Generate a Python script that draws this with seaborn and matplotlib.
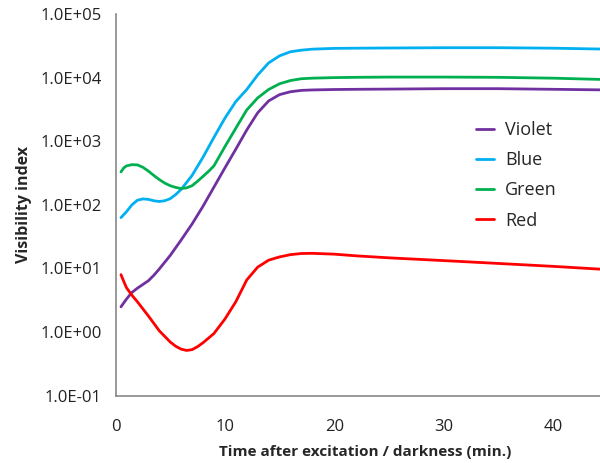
import matplotlib
matplotlib.use('Agg')
import matplotlib.pyplot as plt
import numpy as np
import pandas as pd
import seaborn as sns

# time after excitation (min.) and visibility index
t_violet = [0.5, 1, 1.5, 2, 2.5, 3, 3.5, 4, 5, 6, 7, 8, 9, 10, 11, 12, 13, 14, 15, 16, 17, 18, 20, 22, 25,
            30, 35, 40, 45]
violet = [2.5, 3.3, 4.2, 4.9, 5.6, 6.4, 7.8, 9.8, 16, 28, 50, 95, 190, 380, 750, 1500, 2800, 4300, 5400,
          6000, 6300, 6400, 6500, 6550, 6600, 6700, 6700, 6550, 6400]

t_blue = [0.5, 1, 1.5, 2, 2.5, 3, 3.5, 4, 4.5, 5, 5.5, 6, 7, 8, 9, 10, 11, 12, 13, 14, 15, 16, 17, 18, 20,
          22, 25, 30, 35, 40, 45]
blue = [63, 78, 100, 118, 124, 122, 116, 113, 116, 125, 145, 175, 290, 560, 1150, 2300, 4200, 6500, 11000,
        17000, 22000, 25500, 27000, 28000, 28800, 29000, 29200, 29500, 29500, 29000, 28000]

t_green = [0.5, 0.75, 1, 1.5, 2, 2.5, 3, 3.5, 4, 4.5, 5, 5.5, 6, 6.5, 7, 7.5, 8, 8.5, 9, 10, 11, 12, 13, 14,
           15, 16, 17, 18, 20, 22, 25, 30, 35, 40, 45]
green = [330, 380, 410, 428, 425, 390, 340, 290, 250, 220, 200, 188, 180, 185, 200, 235, 280, 335, 410, 820,
         1600, 3100, 4800, 6500, 8000, 9000, 9600, 9800, 10000, 10100, 10200, 10200, 10100, 9800, 9300]

t_red = [0.5, 0.8, 1, 1.5, 2, 3, 4, 5, 5.5, 6, 6.5, 7, 7.5, 8, 9, 10, 11, 12, 13, 14, 15, 16, 17, 18, 20,
         22, 25, 30, 35, 40, 45]
red = [8, 6, 5, 3.8, 3, 1.8, 1.05, 0.7, 0.6, 0.54, 0.515, 0.53, 0.59, 0.68, 0.95, 1.6, 3.0, 6.6, 10.5,
       13.5, 15.2, 16.5, 17.2, 17.3, 16.8, 15.8, 14.7, 13.3, 12, 10.8, 9.6]

series = ['Violet', 'Blue', 'Green', 'Red']
colors = ['#7030A0', '#00B0F0', '#00B050', '#FF0000']

y_ticks = [1e-1, 1e0, 1e1, 1e2, 1e3, 1e4, 1e5]
y_labels = ['1.0E-01', '1.0E+00', '1.0E+01', '1.0E+02', '1.0E+03', '1.0E+04', '1.0E+05']
x_ticks = [0, 10, 20, 30, 40]

df = pd.concat([
    pd.DataFrame({'time': t_violet, 'value': violet, 'color': 'Violet'}),
    pd.DataFrame({'time': t_blue, 'value': blue, 'color': 'Blue'}),
    pd.DataFrame({'time': t_green, 'value': green, 'color': 'Green'}),
    pd.DataFrame({'time': t_red, 'value': red, 'color': 'Red'}),
])

sns.set_style('white')
plt.rcParams['font.family'] = ['Open Sans', 'DejaVu Sans']

fig = plt.figure(figsize=(6, 4.63), dpi=100)
ax = fig.add_axes([0.1925, 0.1453, 0.8075, 0.8245])

sns.lineplot(data=df, x='time', y='value', hue='color', hue_order=series,
             palette=dict(zip(series, colors)), linewidth=2, ax=ax, sort=False, estimator=None)

ax.set_yscale('log')
ax.set_ylim(1e-1, 1e5)
ax.set_xlim(0, 44.3)
ax.set_yticks(y_ticks)
ax.set_yticklabels(y_labels)
ax.yaxis.set_minor_locator(matplotlib.ticker.NullLocator())
ax.set_xticks(x_ticks)

for s in ['top', 'right']:
    ax.spines[s].set_visible(False)
for s in ['left', 'bottom']:
    ax.spines[s].set_color('#888888')
    ax.spines[s].set_linewidth(1.2)
ax.tick_params(axis='both', which='major', direction='out', length=4, width=1.2,
               color='#888888', labelsize=12, labelcolor='#222222', pad=6)
ax.tick_params(axis='x', pad=13)

ax.set_xlabel('Time after excitation / darkness (min.)', fontsize=11, fontweight='bold')
ax.set_ylabel('Visibility index', fontsize=11.5, fontweight='bold')
ax.xaxis.set_label_coords(0.515, -0.128)
ax.yaxis.set_label_coords(-0.172, 0.5)

leg = ax.legend(loc='upper left', bbox_to_anchor=(0.7435, 0.72), frameon=False, fontsize=13,
                handlelength=1.03, labelspacing=0.68, handletextpad=0.6, borderpad=0, borderaxespad=0)

fig.savefig('out.png', dpi=100)
